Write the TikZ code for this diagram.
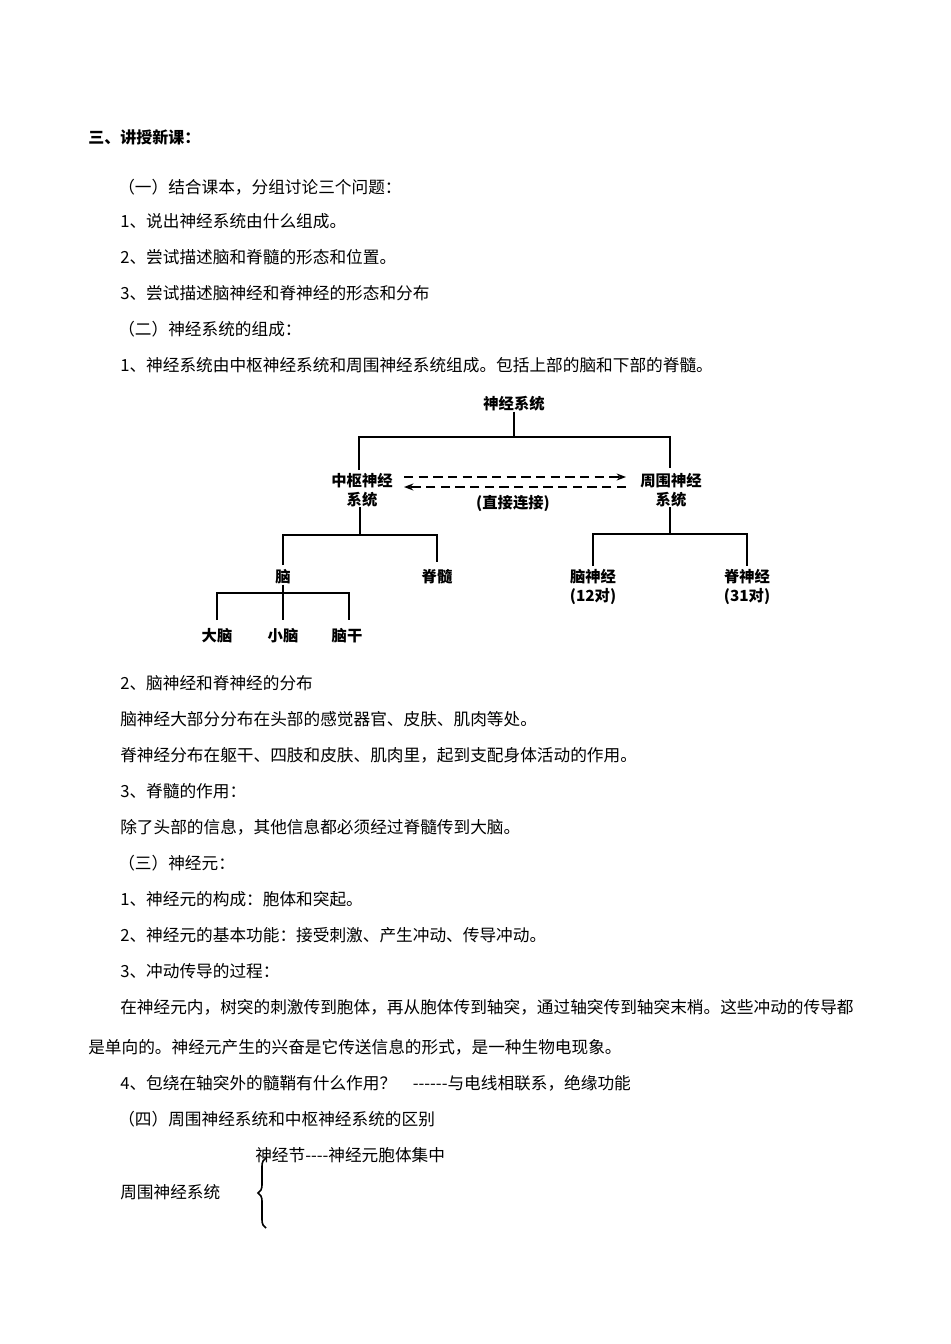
\documentclass[tikz,border=0pt]{standalone}
\usepackage{fontspec}
\setmainfont[Ligatures=NoCommon,Mapping=]{Noto Sans CJK SC}
\usetikzlibrary{arrows.meta,decorations.pathreplacing}
\begin{document}
\begin{tikzpicture}[x=0.75pt,y=-0.75pt,
  txt/.style={anchor=west,inner sep=0pt,font=\fontsize{12.5pt}{15pt}\selectfont},
  lab/.style={inner sep=0pt,font=\bfseries\fontsize{11.5pt}{14pt}\selectfont},
  ln/.style={line width=0.9pt},
  dsh/.style={line width=1.4pt,dash pattern=on 7pt off 4pt,-{Stealth[length=7pt]}}]
\useasboundingbox[fill=white] (0,0) rectangle (950,1344);
\node[txt,font=\bfseries\fontsize{12pt}{14pt}\selectfont] (t0) at (88,137) {三、讲授新课：};
\node[txt] (t1) at (118,187) {（一）结合课本，分组讨论三个问题：};
\node[txt] (t2) at (120,221) {1、说出神经系统由什么组成。};
\node[txt] (t3) at (120,257) {2、尝试描述脑和脊髓的形态和位置。};
\node[txt] (t4) at (120,293) {3、尝试描述脑神经和脊神经的形态和分布};
\node[txt] (t5) at (118,329) {（二）神经系统的组成：};
\node[txt] (t6) at (120,365) {1、神经系统由中枢神经系统和周围神经系统组成。包括上部的脑和下部的脊髓。};
% diagram
\node[lab] (ns) at (514,404) {神经系统};
\node[lab,align=center] (cns) at (362,490) {中枢神经\\系统};
\node[lab,align=center] (pns) at (671,490) {周围神经\\系统};
\node[lab] (zj) at (513,503) {(直接连接)};
\node[lab] (nao) at (283,577) {脑};
\node[lab] (jsui) at (437,577) {脊髓};
\node[lab,align=center] (nsj) at (593,587) {脑神经\\(12对)};
\node[lab,align=center] (jsj) at (747,587) {脊神经\\(31对)};
\node[lab] (dn) at (217,636) {大脑};
\node[lab] (xn) at (283,636) {小脑};
\node[lab] (ng) at (347,636) {脑干};
\draw[ln] (ns.south) -- (514,437);
\draw[ln] (359,470) |- (670,437) -- (670,468);
\draw[dsh] (404,477) -- (626,477);
\draw[dsh] (626,487) -- (404,487);
\draw[ln,line width=1.3pt] (cns.south -| 360,0) -- (360,535);
\draw[ln,line width=1.3pt] (283,565) |- (437,535) -- (437,562);
\draw[ln] (pns.south -| 670,0) -- (670,534);
\draw[ln,line width=1.2pt] (593,566) |- (747,534) -- (747,566);
\draw[ln] (nao.south) -- (283,593);
\draw[ln] (217,620) |- (349,593) -- (349,620);
\draw[ln] (283,593) -- (283,620);
% rest
\node[txt] (u1) at (120,683) {2、脑神经和脊神经的分布};
\node[txt] (u2) at (120,719) {脑神经大部分分布在头部的感觉器官、皮肤、肌肉等处。};
\node[txt] (u3) at (120,755) {脊神经分布在躯干、四肢和皮肤、肌肉里，起到支配身体活动的作用。};
\node[txt] (u4) at (120,791) {3、脊髓的作用：};
\node[txt] (u5) at (120,827) {除了头部的信息，其他信息都必须经过脊髓传到大脑。};
\node[txt] (u6) at (118,863) {（三）神经元：};
\node[txt] (u7) at (120,899) {1、神经元的构成：胞体和突起。};
\node[txt] (u8) at (120,935) {2、神经元的基本功能：接受刺激、产生冲动、传导冲动。};
\node[txt] (u9) at (120,971) {3、冲动传导的过程：};
\node[txt] (u10) at (120,1007) {在神经元内，树突的刺激传到胞体，再从胞体传到轴突，通过轴突传到轴突末梢。这些冲动的传导都};
\node[txt] (u11) at (88,1047) {是单向的。神经元产生的兴奋是它传送信息的形式，是一种生物电现象。};
\node[txt] (u12) at (120,1083) {4、包绕在轴突外的髓鞘有什么作用？\quad -{}-{}-{}-{}-{}-与电线相联系，绝缘功能};
\node[txt] (u13) at (118,1119) {（四）周围神经系统和中枢神经系统的区别};
\node[txt] (u14) at (255,1155) {神经节-{}-{}-{}-神经元胞体集中};
\node[txt] (u15) at (120,1192) {周围神经系统};
\draw[line width=1.2pt,decorate,decoration={brace,amplitude=6pt}] (266,1228) -- (266,1158);
\end{tikzpicture}
\end{document}
